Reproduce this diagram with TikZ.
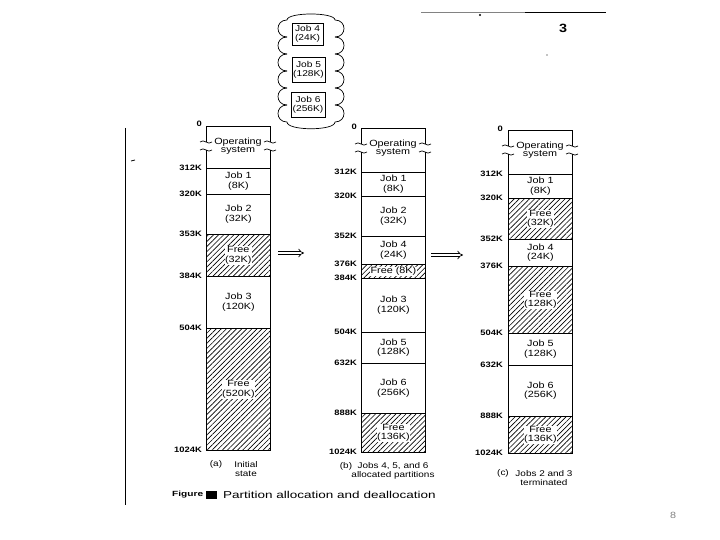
\documentclass[tikz,border=0pt]{standalone}
\usepackage{fontspec}
\setmainfont{Liberation Sans}[FakeStretch=1.2]
\newfontfamily\capfont{Liberation Sans}[FakeStretch=1.35]
\usetikzlibrary{arrows.meta,patterns.meta}
\definecolor{scangray}{RGB}{130,130,130}
\tikzset{
  mem/.style={draw, line width=0.8pt, minimum width=64pt, inner sep=0pt, anchor=north west,
              align=center, font=\fontsize{9}{9.5}\selectfont},
  freemem/.style={mem, pattern={Lines[angle=45,distance=3.6pt,line width=0.65pt]}},
  freetxt/.style={fill=white, inner sep=0.6pt, align=center, font=\fontsize{9}{9.5}\selectfont},
  ostxt/.style={inner sep=0pt, align=center, font=\fontsize{9}{8.5}\selectfont},
  addr/.style={anchor=east, inner sep=0pt, font=\fontsize{7.8}{8}\selectfont\bfseries},
  jobcard/.style={draw, line width=0.7pt, inner sep=0pt, align=center, font=\fontsize{8.5}{9}\selectfont},
  subcap/.style={inner sep=0pt, align=center, font=\fontsize{8.3}{9.5}\selectfont},
  dblarrow/.style={double, double distance=2.2pt, line width=0.7pt, -{Implies}},
}
\begin{document}
\begin{tikzpicture}[x=1pt, y=-1pt]
  \path[fill=white, use as bounding box] (0,0) rectangle (720,540);

  % page of the scan
  \draw[line width=0.8pt] (125,128) -- (125,505);
  \draw[line width=0.6pt, scangray] (421,12) -- (525,12);
  \draw[line width=0.8pt] (525,12) -- (606,12);
  \fill (480,15) circle (1.2pt);
  \fill (547,55) circle (0.6pt);
  \draw[line width=0.8pt] (131,161) -- (135,160);
  \node[inner sep=0pt, font=\fontsize{12}{12}\selectfont\bfseries] (pageno) at (563,28) {3};
  \node[inner sep=0pt, text=scangray, font=\fontsize{9}{9}\selectfont] (slideno) at (673,515) {8};

  % jobs waiting
  \draw[line width=0.7pt] (287,20) .. controls (287,12) and (335,12) .. (335,20);
  \draw[line width=0.7pt] (287,122) .. controls (287,131) and (335,131) .. (335,122);
  \foreach \yy in {20,37,54,71,88,105} {
    \draw[line width=0.7pt] (287,\yy) .. controls (275,\yy) and (275,\yy+17) .. (287,\yy+17);
    \draw[line width=0.7pt] (335,\yy) .. controls (347,\yy) and (347,\yy+17) .. (335,\yy+17);
  }
  \node[jobcard, minimum width=31pt, minimum height=22pt] (job4) at (307.5,34) {Job 4\\(24K)};
  \node[jobcard, minimum width=33pt, minimum height=25pt] (job5) at (308.5,69.5) {Job 5\\(128K)};
  \node[jobcard, minimum width=34pt, minimum height=25pt] (job6) at (308,104.5) {Job 6\\(256K)};

  % operating system blocks
  \foreach \nm/\xl/\yt/\yb in {a/206/126/168, b/361/128/172, c/508/130/174} {
    \draw[line width=0.8pt] (\xl,\yt+16) -- (\xl,\yt) -- (\xl+64,\yt) -- (\xl+64,\yt+16);
    \draw[line width=0.8pt] (\xl,\yt+24) -- (\xl,\yb) (\xl+64,\yt+24) -- (\xl+64,\yb);
    \foreach \yy in {\yt+16,\yt+24} {
      \draw[line width=0.7pt] (\xl-6,\yy) .. controls (\xl-2,\yy-4) and (\xl+2,\yy+4) .. (\xl+6,\yy);
      \draw[line width=0.7pt] (\xl+58,\yy) .. controls (\xl+62,\yy-4) and (\xl+66,\yy+4) .. (\xl+70,\yy);
    }
    \node[ostxt] (\nm-os) at (\xl+32,\yt+20) {Operating\\system};
  }

  % (a) initial state
  \node[mem, minimum height=26pt] (a-job1) at (206,168) {Job 1\\(8K)};
  \node[mem, minimum height=40pt] (a-job2) at (206,194) {Job 2\\(32K)};
  \node[freemem, minimum height=42pt] (a-free1) at (206,234) {};
  \node[freetxt] (a-free1t) at (a-free1) {Free\\(32K)};
  \node[mem, minimum height=52pt] (a-job3) at (206,276) {Job 3\\(120K)};
  \node[freemem, minimum height=122pt] (a-free2) at (206,328) {};
  \node[freetxt] (a-free2t) at (a-free2) {Free\\(520K)};
  \foreach \y/\t in {124/0,168/312K,194/320K,234/353K,276/384K,328/504K,450/1024K}
    \node[addr] (a-\t) at (202,\y) {\t};

  % (b) jobs 4, 5 and 6 allocated
  \node[mem, minimum height=24pt] (b-job1) at (361,172) {Job 1\\(8K)};
  \node[mem, minimum height=40pt] (b-job2) at (361,196) {Job 2\\(32K)};
  \node[mem, minimum height=28pt] (b-job4) at (361,236) {Job 4\\(24K)};
  \node[freemem, minimum height=14pt] (b-free1) at (361,264) {};
  \node[freetxt, inner sep=0.3pt] (b-free1t) at (b-free1) {Free (8K)};
  \node[mem, minimum height=54pt] (b-job3) at (361,278) {Job 3\\(120K)};
  \node[mem, minimum height=31pt] (b-job5) at (361,332) {Job 5\\(128K)};
  \node[mem, minimum height=50pt] (b-job6) at (361,363) {Job 6\\(256K)};
  \node[freemem, minimum height=39pt] (b-free2) at (361,413) {};
  \node[freetxt] (b-free2t) at (b-free2) {Free\\(136K)};
  \foreach \y/\t in {127/0,172/312K,196/320K,236/352K,264/376K,278/384K,332/504K,363/632K,413/888K,452/1024K}
    \node[addr] (b-\t) at (357,\y) {\t};

  % (c) jobs 2 and 3 terminated
  \node[mem, minimum height=24pt] (c-job1) at (508,174) {Job 1\\(8K)};
  \node[freemem, minimum height=41pt] (c-free1) at (508,198) {};
  \node[freetxt] (c-free1t) at (c-free1) {Free\\(32K)};
  \node[mem, minimum height=27pt] (c-job4) at (508,239) {Job 4\\(24K)};
  \node[freemem, minimum height=67pt] (c-free2) at (508,266) {};
  \node[freetxt] (c-free2t) at (c-free2) {Free\\(128K)};
  \node[mem, minimum height=32pt] (c-job5) at (508,333) {Job 5\\(128K)};
  \node[mem, minimum height=51pt] (c-job6) at (508,365) {Job 6\\(256K)};
  \node[freemem, minimum height=37pt] (c-free3) at (508,416) {};
  \node[freetxt] (c-free3t) at (c-free3) {Free\\(136K)};
  \foreach \y/\t in {129/0,174/312K,198/320K,239/352K,266/376K,333/504K,365/632K,416/888K,453/1024K}
    \node[addr] (c-\t) at (503,\y) {\t};

  % steps
  \coordinate (step1s) at (278,253);
  \coordinate (step1e) at (304,253);
  \coordinate (step2s) at (431,255);
  \coordinate (step2e) at (463,255);
  \draw[dblarrow] (step1s) -- (step1e);
  \draw[dblarrow] (step2s) -- (step2e);

  % captions
  \node[subcap] (a-tag) at (216,464) {(a)};
  \node[subcap] (a-cap) at (246,469) {Initial\\state};
  \node[subcap] (b-tag) at (346,466) {(b)};
  \node[subcap] (b-cap) at (393,471) {Jobs 4, 5, and 6\\allocated partitions};
  \node[subcap] (c-tag) at (503,473) {(c)};
  \node[subcap] (c-cap) at (544,478) {Jobs 2 and 3\\terminated};

  \node[anchor=west, inner sep=0pt, font=\capfont\fontsize{7.5}{9}\selectfont\bfseries] (figword) at (172,495) {Figure};
  \fill (206,491) rectangle (217,499);
  \node[anchor=west, inner sep=0pt, font=\capfont\fontsize{10}{10}\selectfont] (figcap) at (223,495) {Partition allocation and deallocation};
\end{tikzpicture}
\end{document}
